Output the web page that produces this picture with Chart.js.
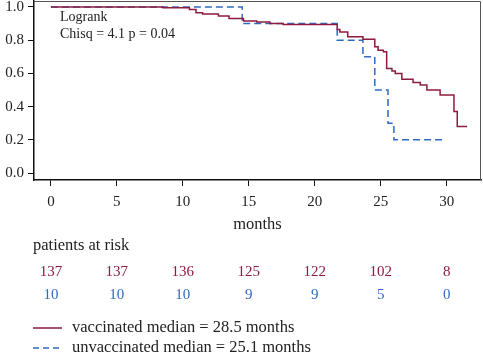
<!DOCTYPE html>
<html>
<head>
<meta charset="utf-8">
<script src="https://cdn.jsdelivr.net/npm/chart.js@4"></script>
<style>
  html, body { margin: 0; padding: 0; background: #fff; }
  #wrap { width: 483px; height: 353px; }
</style>
</head>
<body>
<div id="wrap"><canvas id="km"></canvas></div>
<script>
// Kaplan-Meier steps: time in months, survival probability
const vaxTime = [0, 8.5, 10.5, 11.0, 11.5, 12.7, 13.5, 14.6, 15.6, 16.6, 17.6, 21.7, 21.9, 22.5, 23.65, 24.55, 24.8, 25.2, 25.45, 25.85, 26.1, 26.6, 27.45, 28.0, 28.5, 29.5, 30.55, 30.8, 31.55];
const vaxSurv = [1.0, 0.995, 0.985, 0.965, 0.958, 0.945, 0.93, 0.915, 0.91, 0.90, 0.895, 0.865, 0.85, 0.82, 0.805, 0.76, 0.74, 0.73, 0.63, 0.615, 0.60, 0.565, 0.545, 0.53, 0.50, 0.47, 0.37, 0.28, 0.28];
const unvTime = [0, 14.5, 21.7, 23.65, 24.55, 25.55, 26.0, 29.8];
const unvSurv = [1.0, 0.9, 0.8, 0.7, 0.5, 0.3, 0.2, 0.2];

const xTicks = [0, 5, 10, 15, 20, 25, 30];
const yTicks = [0, 0.2, 0.4, 0.6, 0.8, 1.0];
const riskVax = [137, 137, 136, 125, 122, 102, 8];
const riskUnv = [10, 10, 10, 9, 9, 5, 0];

const labelVax = "vaccinated median = 28.5 months";
const labelUnv = "unvaccinated median = 25.1 months";
const testLines = ["Logrank", "Chisq = 4.1 p = 0.04"];

const RED = "#8e1b3e";
const BLUE = "#2e6bc0";
const FONT = "'Liberation Serif', 'Times New Roman', serif";

const toPoints = (t, s) => t.map((v, i) => ({ x: v, y: s[i] }));

const extras = {
  id: "extras",
  afterDraw(chart) {
    const { ctx, chartArea: a, scales } = chart;
    const xs = scales.x;
    ctx.save();
    // top and right frame
    ctx.strokeStyle = "#555";
    ctx.lineWidth = 1;
    ctx.beginPath();
    ctx.moveTo(a.left, a.top + 0.5);
    ctx.lineTo(a.right - 0.5, a.top + 0.5);
    ctx.lineTo(a.right - 0.5, a.bottom);
    ctx.stroke();

    ctx.fillStyle = "#222";
    ctx.font = "14px " + FONT;
    ctx.textBaseline = "middle";
    ctx.textAlign = "left";
    ctx.fillText(testLines[0], 60, 17);
    ctx.fillText(testLines[1], 60, 34.5);

    ctx.font = "16.5px " + FONT;
    ctx.textAlign = "center";
    ctx.fillText("months", (a.left + a.right) / 2, 225);
    ctx.textAlign = "left";
    ctx.fillText("patients at risk", 33, 246);

    ctx.font = "15px " + FONT;
    ctx.textAlign = "center";
    xTicks.forEach((t, i) => {
      const px = xs.getPixelForValue(t);
      ctx.fillStyle = RED;
      ctx.fillText(String(riskVax[i]), px, 272);
      ctx.fillStyle = BLUE;
      ctx.fillText(String(riskUnv[i]), px, 295.5);
    });

    // legend
    ctx.lineWidth = 1.5;
    ctx.strokeStyle = RED;
    ctx.beginPath();
    ctx.moveTo(33, 328);
    ctx.lineTo(62, 328);
    ctx.stroke();
    ctx.strokeStyle = BLUE;
    ctx.setLineDash([6, 4]);
    ctx.beginPath();
    ctx.moveTo(33, 348);
    ctx.lineTo(62, 348);
    ctx.stroke();
    ctx.setLineDash([]);
    ctx.fillStyle = "#222";
    ctx.font = "16.5px " + FONT;
    ctx.textAlign = "left";
    ctx.fillText(labelVax, 72, 327.5);
    ctx.fillText(labelUnv, 72, 347.5);
    ctx.restore();
  }
};

new Chart(document.getElementById("km"), {
  type: "line",
  data: {
    datasets: [
      {
        label: "vaccinated",
        data: toPoints(vaxTime, vaxSurv),
        borderColor: RED,
        borderWidth: 1.5,
        pointRadius: 0,
        stepped: true,
        fill: false,
      },
      {
        label: "unvaccinated",
        data: toPoints(unvTime, unvSurv),
        borderColor: BLUE,
        borderWidth: 1.5,
        borderDash: [7, 4],
        pointRadius: 0,
        stepped: true,
        fill: false,
      },
    ],
  },
  options: {
    responsive: true,
    maintainAspectRatio: false,
    animation: false,
    layout: { padding: { top: 1, right: 2, left: 0, bottom: 0 } },
    plugins: {
      legend: { display: false },
      tooltip: { enabled: false },
    },
    scales: {
      x: {
        type: "linear",
        min: -1.28,
        max: 32.6,
        afterBuildTicks: (s) => { s.ticks = xTicks.map((v) => ({ value: v })); },
        afterFit: (s) => { s.height = 173; s.paddingLeft = 0; s.paddingRight = 0; },
        grid: { drawOnChartArea: false, drawTicks: true, tickLength: 6, color: "#111" },
        border: { display: true, color: "#111", width: 1.5 },
        ticks: { color: "#222", padding: 7, maxRotation: 0, font: { family: FONT, size: 15 } },
      },
      y: {
        type: "linear",
        min: -0.042,
        max: 1.036,
        afterBuildTicks: (s) => { s.ticks = yTicks.map((v) => ({ value: v })); },
        afterFit: (s) => { s.width = 34; s.paddingTop = 0; s.paddingBottom = 0; },
        grid: { drawOnChartArea: false, drawTicks: true, tickLength: 6, color: "#111" },
        border: { display: true, color: "#111", width: 1.5 },
        ticks: { color: "#222", padding: 4, font: { family: FONT, size: 15 }, callback: (v) => v.toFixed(1) },
      },
    },
  },
  plugins: [extras],
});
</script>
</body>
</html>
